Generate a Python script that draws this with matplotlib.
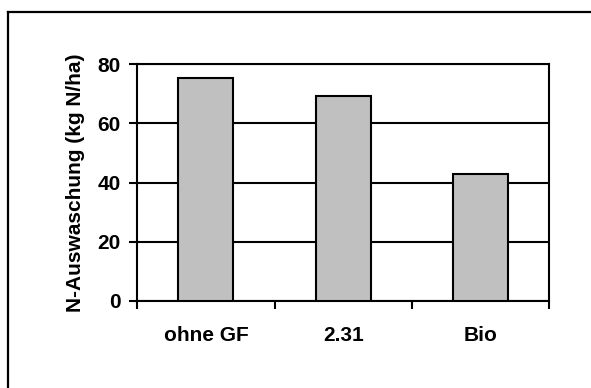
import matplotlib
matplotlib.use("Agg")
import matplotlib.pyplot as plt
from matplotlib.lines import Line2D
import numpy as np

# N leaching per variant
categories = ["ohne GF", "2.31", "Bio"]
leaching = [75.4, 69.3, 42.9]
yticks = [0, 20, 40, 60, 80]

plt.rcParams["font.family"] = ["Liberation Sans", "DejaVu Sans"]
plt.rcParams["font.weight"] = "bold"

W, H = 591, 388
fig = plt.figure(figsize=(W / 100, H / 100), dpi=100)
fig.patch.set_facecolor("white")

# frame around the chart, only top and left edges fall inside the canvas
fig.add_artist(Line2D([7.5 / W, 1.0], [1 - 11.5 / H, 1 - 11.5 / H],
                      transform=fig.transFigure, color="black", lw=1.6))
fig.add_artist(Line2D([7.5 / W, 7.5 / W], [0.0, 1 - 11.5 / H],
                      transform=fig.transFigure, color="black", lw=1.6))

left, right, top, bottom = 137.3, 549.0, 64.3, 300.7
ax = fig.add_axes([left / W, 1 - bottom / H, (right - left) / W, (bottom - top) / H])

x = np.arange(len(categories))
ax.set_axisbelow(True)
ax.yaxis.grid(True, color="black", lw=1.5)
ax.bar(x, leaching, width=0.4, color="#c0c0c0", edgecolor="black", lw=1.5, zorder=3)

ax.set_xlim(-0.5, len(categories) - 0.5)
ax.set_ylim(0, 80)
ax.set_yticks(yticks)
ax.set_xticks(x)
ax.set_xticklabels(categories)
ax.set_xticks(np.arange(len(categories) + 1) - 0.5, minor=True)

for s in ax.spines.values():
    s.set_linewidth(1.5)
    s.set_color("black")

ax.tick_params(axis="y", which="major", length=6, width=1.5, pad=6, labelsize=15)
ax.tick_params(axis="x", which="major", length=0, pad=18, labelsize=15)
ax.tick_params(axis="x", which="minor", length=5.5, width=1.5)

ax.set_ylabel("N-Auswaschung (kg N/ha)", fontsize=15, fontweight="bold", labelpad=9)

fig.savefig("out.png", dpi=100)
